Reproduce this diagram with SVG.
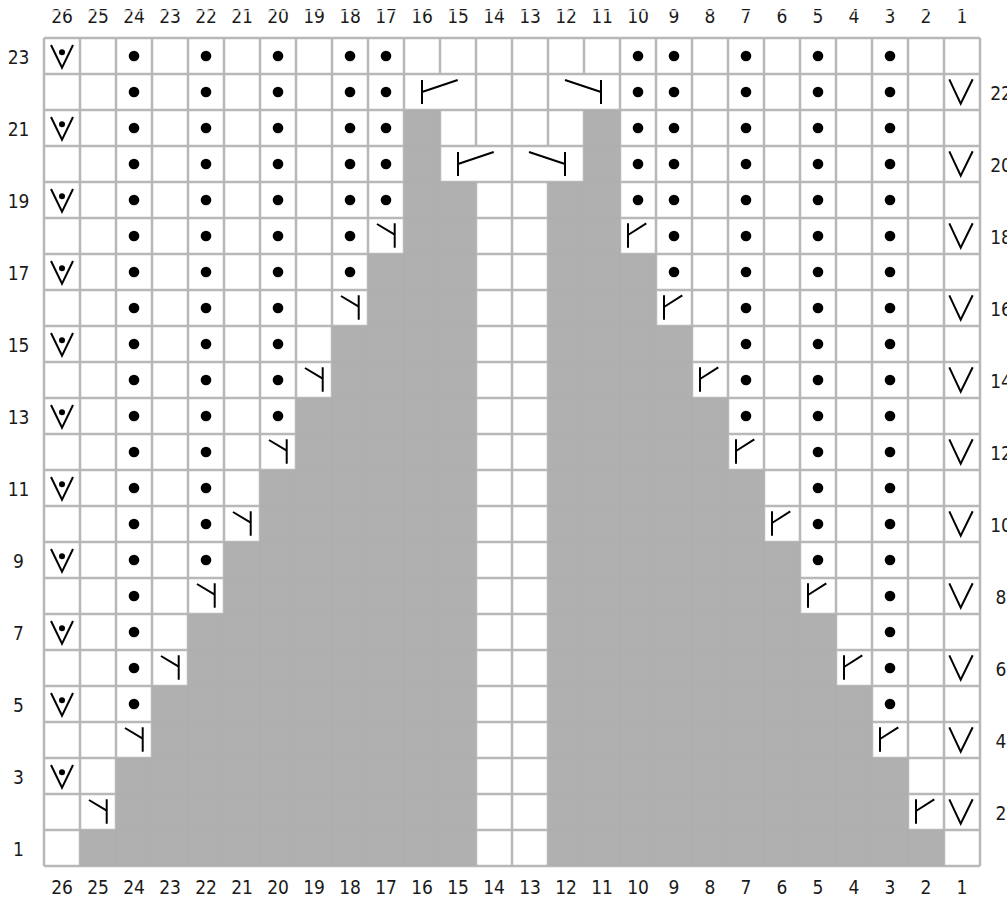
<svg xmlns="http://www.w3.org/2000/svg" width="1007" height="902" viewBox="0 0 1007 902">
<style>
text{font-family:"DejaVu Sans Condensed","DejaVu Sans",sans-serif;font-stretch:condensed;font-size:19px;fill:#1a1a1a;text-anchor:middle}
.sym{fill:none;stroke:#000;stroke-width:2;stroke-linejoin:miter}
.grid{fill:none;stroke:#b8b8b8;stroke-width:2.500}
.fill{fill:#b0b0b0}
.seam{fill:none;stroke:#adadad;stroke-width:1}
</style>
<defs>
<circle id="d" r="5.300" fill="#000"/>
<path id="v" class="sym" d="M-12.700 -12.700L-1.300 11.700L10.700 -12.700"/>
<g id="vd"><path class="sym" d="M-11 -11L0 11.700L11 -11"/><circle cy="-3.700" r="3" fill="#000"/></g>
<path id="r" class="sym" d="M-10 -12.700V11.700M-10 -1L8.300 -12.700"/>
<path id="l" class="sym" d="M8.700 -12.700V11.700M8.700 -1.300L-9 -12"/>
<path id="wr" class="sym" d="M-14 -12V12M-14 0L21.700 -12"/>
<path id="wl" class="sym" d="M17 -12V12M17 0L-19 -12"/>
<clipPath id="area"><path d="M80 866V830H116V758H152V686H188V614H224V542H260V470H296V398H332V326H368V254H404V110H440V182H476V866Z"/><path d="M944 866V830H908V758H872V686H836V614H800V542H764V470H728V398H692V326H656V254H620V110H584V182H548V866Z"/></clipPath>
</defs>
<rect width="1007" height="902" fill="#fff"/>
<path class="grid" d="M44 38H980M44 74H980M44 110H980M44 146H980M44 182H980M44 218H980M44 254H980M44 290H980M44 326H980M44 362H980M44 398H980M44 434H980M44 470H980M44 506H980M44 542H980M44 578H980M44 614H980M44 650H980M44 686H980M44 722H980M44 758H980M44 794H980M44 830H980M44 866H980"/>
<path class="grid" d="M44 38V866M80 38V866M116 38V866M152 38V866M188 38V866M224 38V866M260 38V866M296 38V866M332 38V866M368 38V866M404 38V866M440 38V74M440 110V866M476 38V146M476 182V866M512 38V866M548 38V146M548 182V866M584 38V74M584 110V866M620 38V866M656 38V866M692 38V866M728 38V866M764 38V866M800 38V866M836 38V866M872 38V866M908 38V866M944 38V866M980 38V866"/>
<path class="fill" d="M80 866V830H116V758H152V686H188V614H224V542H260V470H296V398H332V326H368V254H404V110H440V182H476V866Z"/>
<path class="fill" d="M944 866V830H908V758H872V686H836V614H800V542H764V470H728V398H692V326H656V254H620V110H584V182H548V866Z"/>
<g clip-path="url(#area)">
<path class="seam" d="M44 146H980M44 182H980M44 218H980M44 254H980M44 290H980M44 326H980M44 362H980M44 398H980M44 434H980M44 470H980M44 506H980M44 542H980M44 578H980M44 614H980M44 650H980M44 686H980M44 722H980M44 758H980M44 794H980M44 830H980"/>
<path class="seam" d="M116 38V866M152 38V866M188 38V866M224 38V866M260 38V866M296 38V866M332 38V866M368 38V866M404 38V866M440 38V866M584 38V866M620 38V866M656 38V866M692 38V866M728 38V866M764 38V866M800 38V866M836 38V866M872 38V866M908 38V866"/>
</g>
<g id="dots">
<use href="#d" x="134" y="56"/><use href="#d" x="206" y="56"/><use href="#d" x="278" y="56"/><use href="#d" x="350" y="56"/><use href="#d" x="386" y="56"/><use href="#d" x="638" y="56"/><use href="#d" x="674" y="56"/><use href="#d" x="746" y="56"/><use href="#d" x="818" y="56"/><use href="#d" x="890" y="56"/>
<use href="#d" x="134" y="92"/><use href="#d" x="206" y="92"/><use href="#d" x="278" y="92"/><use href="#d" x="350" y="92"/><use href="#d" x="386" y="92"/><use href="#d" x="638" y="92"/><use href="#d" x="674" y="92"/><use href="#d" x="746" y="92"/><use href="#d" x="818" y="92"/><use href="#d" x="890" y="92"/>
<use href="#d" x="134" y="128"/><use href="#d" x="206" y="128"/><use href="#d" x="278" y="128"/><use href="#d" x="350" y="128"/><use href="#d" x="386" y="128"/><use href="#d" x="638" y="128"/><use href="#d" x="674" y="128"/><use href="#d" x="746" y="128"/><use href="#d" x="818" y="128"/><use href="#d" x="890" y="128"/>
<use href="#d" x="134" y="164"/><use href="#d" x="206" y="164"/><use href="#d" x="278" y="164"/><use href="#d" x="350" y="164"/><use href="#d" x="386" y="164"/><use href="#d" x="638" y="164"/><use href="#d" x="674" y="164"/><use href="#d" x="746" y="164"/><use href="#d" x="818" y="164"/><use href="#d" x="890" y="164"/>
<use href="#d" x="134" y="200"/><use href="#d" x="206" y="200"/><use href="#d" x="278" y="200"/><use href="#d" x="350" y="200"/><use href="#d" x="386" y="200"/><use href="#d" x="638" y="200"/><use href="#d" x="674" y="200"/><use href="#d" x="746" y="200"/><use href="#d" x="818" y="200"/><use href="#d" x="890" y="200"/>
<use href="#d" x="134" y="236"/><use href="#d" x="206" y="236"/><use href="#d" x="278" y="236"/><use href="#d" x="350" y="236"/><use href="#d" x="674" y="236"/><use href="#d" x="746" y="236"/><use href="#d" x="818" y="236"/><use href="#d" x="890" y="236"/>
<use href="#d" x="134" y="272"/><use href="#d" x="206" y="272"/><use href="#d" x="278" y="272"/><use href="#d" x="350" y="272"/><use href="#d" x="674" y="272"/><use href="#d" x="746" y="272"/><use href="#d" x="818" y="272"/><use href="#d" x="890" y="272"/>
<use href="#d" x="134" y="308"/><use href="#d" x="206" y="308"/><use href="#d" x="278" y="308"/><use href="#d" x="746" y="308"/><use href="#d" x="818" y="308"/><use href="#d" x="890" y="308"/>
<use href="#d" x="134" y="344"/><use href="#d" x="206" y="344"/><use href="#d" x="278" y="344"/><use href="#d" x="746" y="344"/><use href="#d" x="818" y="344"/><use href="#d" x="890" y="344"/>
<use href="#d" x="134" y="380"/><use href="#d" x="206" y="380"/><use href="#d" x="278" y="380"/><use href="#d" x="746" y="380"/><use href="#d" x="818" y="380"/><use href="#d" x="890" y="380"/>
<use href="#d" x="134" y="416"/><use href="#d" x="206" y="416"/><use href="#d" x="278" y="416"/><use href="#d" x="746" y="416"/><use href="#d" x="818" y="416"/><use href="#d" x="890" y="416"/>
<use href="#d" x="134" y="452"/><use href="#d" x="206" y="452"/><use href="#d" x="818" y="452"/><use href="#d" x="890" y="452"/>
<use href="#d" x="134" y="488"/><use href="#d" x="206" y="488"/><use href="#d" x="818" y="488"/><use href="#d" x="890" y="488"/>
<use href="#d" x="134" y="524"/><use href="#d" x="206" y="524"/><use href="#d" x="818" y="524"/><use href="#d" x="890" y="524"/>
<use href="#d" x="134" y="560"/><use href="#d" x="206" y="560"/><use href="#d" x="818" y="560"/><use href="#d" x="890" y="560"/>
<use href="#d" x="134" y="596"/><use href="#d" x="890" y="596"/>
<use href="#d" x="134" y="632"/><use href="#d" x="890" y="632"/>
<use href="#d" x="134" y="668"/><use href="#d" x="890" y="668"/>
<use href="#d" x="134" y="704"/><use href="#d" x="890" y="704"/>
</g>
<g id="col26">
<use href="#vd" x="62" y="56"/><use href="#vd" x="62" y="128"/><use href="#vd" x="62" y="200"/><use href="#vd" x="62" y="272"/><use href="#vd" x="62" y="344"/><use href="#vd" x="62" y="416"/><use href="#vd" x="62" y="488"/><use href="#vd" x="62" y="560"/><use href="#vd" x="62" y="632"/><use href="#vd" x="62" y="704"/><use href="#vd" x="62" y="776"/>
</g>
<g id="col1">
<use href="#v" x="962" y="92"/><use href="#v" x="962" y="164"/><use href="#v" x="962" y="236"/><use href="#v" x="962" y="308"/><use href="#v" x="962" y="380"/><use href="#v" x="962" y="452"/><use href="#v" x="962" y="524"/><use href="#v" x="962" y="596"/><use href="#v" x="962" y="668"/><use href="#v" x="962" y="740"/><use href="#v" x="962" y="812"/>
</g>
<g id="left-edge">
<use href="#l" x="98" y="812"/><use href="#l" x="134" y="740"/><use href="#l" x="170" y="668"/><use href="#l" x="206" y="596"/><use href="#l" x="242" y="524"/><use href="#l" x="278" y="452"/><use href="#l" x="314" y="380"/><use href="#l" x="350" y="308"/><use href="#l" x="386" y="236"/>
</g>
<g id="right-edge">
<use href="#r" x="926" y="812"/><use href="#r" x="890" y="740"/><use href="#r" x="854" y="668"/><use href="#r" x="818" y="596"/><use href="#r" x="782" y="524"/><use href="#r" x="746" y="452"/><use href="#r" x="710" y="380"/><use href="#r" x="674" y="308"/><use href="#r" x="638" y="236"/>
</g>
<g id="wide">
<use href="#wr" x="436" y="92"/><use href="#wl" x="584" y="92"/><use href="#wr" x="472" y="164"/><use href="#wl" x="548" y="164"/>
</g>
<g id="labels-top">
<text x="62" y="23">26</text><text x="98" y="23">25</text><text x="134" y="23">24</text><text x="170" y="23">23</text><text x="206" y="23">22</text><text x="242" y="23">21</text><text x="278" y="23">20</text><text x="314" y="23">19</text><text x="350" y="23">18</text><text x="386" y="23">17</text><text x="422" y="23">16</text><text x="458" y="23">15</text><text x="494" y="23">14</text><text x="530" y="23">13</text><text x="566" y="23">12</text><text x="602" y="23">11</text><text x="638" y="23">10</text><text x="674" y="23">9</text><text x="710" y="23">8</text><text x="746" y="23">7</text><text x="782" y="23">6</text><text x="818" y="23">5</text><text x="854" y="23">4</text><text x="890" y="23">3</text><text x="926" y="23">2</text><text x="962" y="23">1</text>
</g>
<rect x="0" y="10.300" width="1007" height="1.300" fill="#fff"/>
<g id="labels-bottom">
<text x="62" y="894">26</text><text x="98" y="894">25</text><text x="134" y="894">24</text><text x="170" y="894">23</text><text x="206" y="894">22</text><text x="242" y="894">21</text><text x="278" y="894">20</text><text x="314" y="894">19</text><text x="350" y="894">18</text><text x="386" y="894">17</text><text x="422" y="894">16</text><text x="458" y="894">15</text><text x="494" y="894">14</text><text x="530" y="894">13</text><text x="566" y="894">12</text><text x="602" y="894">11</text><text x="638" y="894">10</text><text x="674" y="894">9</text><text x="710" y="894">8</text><text x="746" y="894">7</text><text x="782" y="894">6</text><text x="818" y="894">5</text><text x="854" y="894">4</text><text x="890" y="894">3</text><text x="926" y="894">2</text><text x="962" y="894">1</text>
</g>
<g id="labels-left">
<text x="18.500" y="64">23</text><text x="18.500" y="136">21</text><text x="18.500" y="208">19</text><text x="18.500" y="280">17</text><text x="18.500" y="352">15</text><text x="18.500" y="424">13</text><text x="18.500" y="496">11</text><text x="18.500" y="568">9</text><text x="18.500" y="640">7</text><text x="18.500" y="712">5</text><text x="18.500" y="784">3</text><text x="18.500" y="856">1</text>
</g>
<g id="labels-right">
<text x="1001" y="100">22</text><text x="1001" y="172">20</text><text x="1001" y="244">18</text><text x="1001" y="316">16</text><text x="1001" y="388">14</text><text x="1001" y="460">12</text><text x="1001" y="532">10</text><text x="1001" y="604">8</text><text x="1001" y="676">6</text><text x="1001" y="748">4</text><text x="1001" y="820">2</text>
</g>
</svg>
